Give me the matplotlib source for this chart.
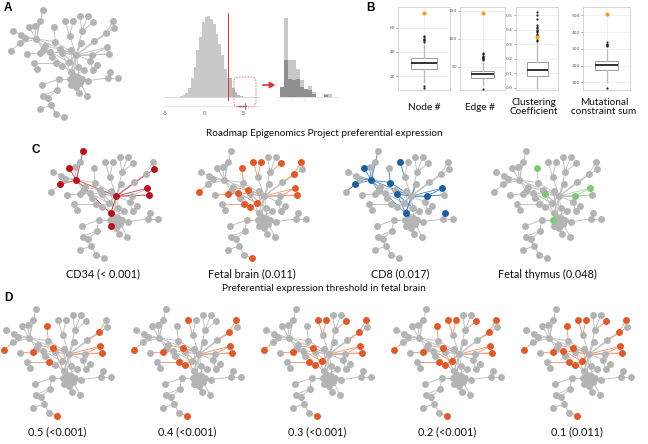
import numpy as np
import matplotlib
matplotlib.use("Agg")
import matplotlib.pyplot as plt
from matplotlib.collections import LineCollection
from matplotlib.patches import FancyBboxPatch, FancyArrowPatch

W, H = 648, 444

# ---------------- network layout (shared by all network panels) ----------------
node_x = [128, 118, 85, 103, 38, 62, 75, 108, 60, 32, 160, 195, 218, 238, 262, 278, 208, 245,
          338, 340, 316, 280, 242, 165, 135, 128, 80, 118, 150, 155, 180, 185, 212, 228, 275,
          320, 326, 268, 100, 110, 168, 186, 205, 290, 278, 252, 232, 211, 330, 323, 353, 220,
          232, 245, 208, 225, 240, 212, 262, 175, 126, 170, 228, 237, 260, 127, 143, 152, 119,
          168, 192]
node_y = [33, 65, 83, 82, 95, 107, 118, 120, 133, 155, 83, 67, 67, 52, 52, 70, 112, 97,
          67, 88, 103, 127, 132, 128, 142, 152, 165, 162, 158, 175, 150, 162, 152, 168, 168,
          145, 165, 185, 192, 210, 192, 202, 190, 198, 213, 213, 203, 220, 220, 237, 237, 230,
          235, 240, 240, 248, 252, 258, 245, 240, 258, 272, 265, 283, 290, 290, 298, 318, 330,
          345, 355]
edges = [(0, 7), (1, 7), (3, 7), (2, 7), (4, 5), (5, 6), (6, 7), (5, 7), (8, 7), (9, 8), (8, 6),
         (11, 16), (12, 16), (16, 33), (10, 23), (23, 7), (23, 33), (13, 17), (14, 17), (15, 17),
         (17, 33), (18, 20), (20, 21), (21, 33), (19, 33), (22, 33), (24, 25), (25, 7), (24, 30),
         (26, 27), (27, 28), (28, 33), (29, 28), (30, 33), (31, 33), (32, 33), (34, 33), (35, 34),
         (36, 34), (35, 33), (36, 33), (37, 33), (38, 40), (39, 38), (40, 41), (41, 33), (42, 33),
         (43, 44), (44, 37), (45, 51), (46, 33), (47, 33), (47, 57), (48, 49), (50, 49), (49, 58),
         (51, 52), (52, 53), (53, 58), (54, 51), (55, 52), (56, 55), (57, 54), (51, 33), (52, 46),
         (59, 54), (60, 59), (61, 59), (62, 55), (63, 62), (64, 56), (65, 61), (66, 61), (67, 66),
         (68, 67), (69, 67), (70, 69), (7, 33), (7, 47), (1, 3), (30, 47), (31, 46), (28, 42),
         (22, 47), (32, 51)]

# highlighted node sets
cd34 = [0, 2, 7, 8, 19, 33, 35, 36, 47, 57]
fetal_brain = [9, 10, 11, 12, 15, 18, 20, 27, 28, 30, 35, 36, 40, 41, 42, 70]
cd8 = [2, 7, 8, 11, 23, 31, 34, 35, 47, 48]
fetal_thymus = [10, 31, 34, 35, 54]
thr_05 = [9, 10, 20, 27, 30, 35, 36, 40, 70]
thr_04 = [9, 11, 18, 20, 27, 30, 35, 36, 40, 41, 70]
thr_03 = [9, 11, 12, 15, 18, 20, 27, 30, 35, 36, 40, 41, 42, 70]
thr_02 = [9, 10, 11, 12, 15, 18, 20, 27, 30, 35, 36, 40, 41, 42, 70]
thr_01 = fetal_brain

c_labels = ["CD34 (< 0.001)", "Fetal brain (0.011)", "CD8 (0.017)", "Fetal thymus (0.048)"]
d_labels = ["0.5 (<0.001)", "0.4 (<0.001)", "0.3 (<0.001)", "0.2 (<0.001)", "0.1 (0.011)"]

# ---------------- histogram (panel A) ----------------
hist_centers = [-2.9, -2.55, -2.2, -1.85, -1.5, -1.15, -0.8, -0.45, -0.1, 0.25, 0.6, 0.95,
                1.3, 1.65, 2.0, 2.35, 2.7, 3.05, 3.4, 3.75, 4.1, 4.45, 4.8]
hist_counts = [3, 6, 12, 28, 58, 90, 140, 180, 225, 240, 242, 233, 218, 190, 160, 125, 85,
               58, 57, 28, 15, 7, 3]
threshold = 3.06
inset_bins = [0, 1, 2, 3, 4, 5, 6, 7, 8, 9, 10, 11, 12]
inset_light = [30, 238, 110, 110, 85, 50, 20, 32, 15, 0, 0, 10, 10]
inset_dark = [30, 110, 55, 50, 55, 30, 25, 20, 10, 0, 0, 5, 0]

# ---------------- boxplots (panel B) ----------------
box_names = ["Node #", "Edge #", "Clustering\nCoefficient", "Mutational\nconstraint sum"]
box_med = [30.5, 37, 0.123, 202]
box_q1 = [26, 29.2, 0.081, 174]
box_q3 = [34.5, 42.9, 0.175, 227]
box_lo = [15, 17.3, 0.0, 100]
box_hi = [46, 56, 0.31, 295]
box_fliers = [[48, 49.5, 50, 51, 52, 53, 11.8, 9.9],
              [62, 64, 65, 66, 67, 68, 70, 72, 74, 9.6],
              [0.32, 0.33, 0.34, 0.35, 0.36, 0.37, 0.38, 0.39, 0.40, 0.41, 0.42, 0.43, 0.47, 0.50, 0.52],
              [315, 320, 325, 330, 338, 65]]
box_observed = [72, 146, 0.348, 510]
box_ticks = [[20, 40, 60], [50, 100, 150], [0.0, 0.1, 0.2, 0.3, 0.4, 0.5], [100, 200, 300, 400, 500]]
box_ylim = [(8.5, 77), (8.3, 157), (-0.015, 0.555), (55, 549)]

GRAY_NODE = "#b4b4b4"
GRAY_EDGE = "#bfbfbf"
NODE_S = 25

fig = plt.figure(figsize=(W / 100, H / 100), dpi=100)


def px_axes(x0, y0, w, h):
    ax = fig.add_axes([x0 / W, 1 - (y0 + h) / H, w / W, h / H])
    return ax


def draw_net(x0, y0, hl, ncol, ecol, rule):
    m = 6
    size = 107.0
    ax = px_axes(x0 - m, y0 - m, size + 2 * m, size + 2 * m)
    ax.set_xlim(32 - 3 * m, 32 + 3 * size + 3 * m)
    ax.set_ylim(33 + 3 * size + 3 * m, 33 - 3 * m)
    ax.axis("off")
    hs = set(hl)
    g_seg, c_seg = [], []
    for a, b in edges:
        seg = [(node_x[a], node_y[a]), (node_x[b], node_y[b])]
        if rule == "both":
            on = a in hs and b in hs
        else:
            on = a in hs or b in hs
        (c_seg if on else g_seg).append(seg)
    ax.add_collection(LineCollection(g_seg, colors=GRAY_EDGE, linewidths=0.65, zorder=1))
    if c_seg:
        ax.add_collection(LineCollection(c_seg, colors=ecol, linewidths=0.65, zorder=2))
    gx = [node_x[i] for i in range(len(node_x)) if i not in hs]
    gy = [node_y[i] for i in range(len(node_y)) if i not in hs]
    ax.scatter(gx, gy, s=NODE_S, color=GRAY_NODE, linewidths=0, zorder=3)
    if hl:
        ax.scatter([node_x[i] for i in hl], [node_y[i] for i in hl], s=NODE_S, color=ncol,
                   linewidths=0, zorder=4)
    return ax


# Panel A network
draw_net(11, 10, [], GRAY_NODE, GRAY_EDGE, "both")

# Panel C networks
c_sets = [cd34, fetal_brain, cd8, fetal_thymus]
c_ncol = ["#b5121b", "#df5a2a", "#1f5e9c", "#82c47a"]
c_ecol = ["#cf4a55", "#f09a78", "#4d8cc6", "#a9d8a2"]
c_rule = ["both", "either", "either", "either"]
c_left = [51, 199, 346, 494]
for i in range(4):
    draw_net(c_left[i], 151, c_sets[i], c_ncol[i], c_ecol[i], c_rule[i])

# Panel D networks
d_sets = [thr_05, thr_04, thr_03, thr_02, thr_01]
d_center = [57, 187, 317, 447, 577]
for i in range(5):
    draw_net(d_center[i] - 53, 309, d_sets[i], "#df5a2a", "#f09a78", "either")

# ---------------- main histogram ----------------
hx0, hx1 = 160, 275
hy0, hy1 = 5, 122
axh = px_axes(hx0, hy0, hx1 - hx0, hy1 - hy0)
axh.set_xlim((hx0 - 204) / 7.83, (hx1 - 204) / 7.83)
axh.set_ylim(-(hy1 - 97) * 3, (97 - hy0) * 3)
axh.axis("off")
cols = ["#c9c9c9" if c < threshold else "#b9b9b9" for c in hist_centers]
axh.bar(hist_centers, hist_counts, width=0.35, color=cols, linewidth=0, zorder=2)
axh.plot([-5.2, 7.2], [0, 0], color="#d6d6d6", lw=0.6, zorder=1)
axh.plot([-5.2, 7.0], [-27, -27], color="#e2e2e2", lw=0.6, zorder=1)
axh.plot([4.3, 5.4], [-27, -27], color="#777777", lw=1.0, zorder=2)
axh.plot([5.19, 5.19], [-36, -18], color="#d23c3c", lw=0.6, zorder=3)
axh.plot([threshold, threshold], [-9, 252], color="#d9363e", lw=0.7, zorder=3)
for t in [-5, 0, 5]:
    axh.text(t, -48, str(t), fontsize=3.5, color="#555555", ha="center", va="center")

# ---------------- inset histogram ----------------
axi = px_axes(277, 5, 64, 105)
axi.set_xlim(-1.3, 14.7)
axi.set_ylim(-(110 - 97) * 3, (97 - 5) * 3)
axi.axis("off")
axi.bar(inset_bins, inset_light, width=1.0, color="#c9c9c9", linewidth=0, zorder=1)
axi.bar(inset_bins, inset_dark, width=1.0, color="#8f8f8f", linewidth=0, zorder=2)
axi.plot([-1.0, 14.0], [0, 0], color="#d6d6d6", lw=0.5, zorder=0)
for k, t in enumerate([-0.98, 2.4, 5.7, 9.0, 12.4]):
    axi.text(t, -10, "-", fontsize=3, color="#777777", ha="center", va="center")

# ---------------- boxplots ----------------
box_frames = [(398, 450), (460, 505), (516, 558), (583, 630)]
for i in range(4):
    x0, x1 = box_frames[i]
    axb = px_axes(x0, 7, x1 - x0, 83)
    stats = [dict(med=box_med[i], q1=box_q1[i], q3=box_q3[i], whislo=box_lo[i],
                  whishi=box_hi[i], fliers=box_fliers[i], label="")]
    axb.bxp(stats, positions=[1], widths=0.5, patch_artist=True, showcaps=False,
            boxprops=dict(facecolor="white", edgecolor="#8a8a8a", linewidth=0.6),
            medianprops=dict(color="#222222", linewidth=1.3),
            whiskerprops=dict(color="#bdbdbd", linewidth=1.0),
            flierprops=dict(marker="o", markersize=1.6, markerfacecolor="#222222",
                            markeredgewidth=0, linestyle="none"),
            zorder=3)
    axb.scatter([1], [box_observed[i]], s=9, color="#f5a021", linewidths=0, zorder=5)
    axb.set_xlim(0.5, 1.5)
    axb.set_ylim(*box_ylim[i])
    axb.set_yticks(box_ticks[i])
    if i == 2:
        axb.set_yticklabels(["%.1f" % v for v in box_ticks[i]])
    axb.set_xticks([])
    axb.tick_params(axis="y", labelsize=3.2, length=1.2, width=0.4, pad=1,
                    colors="#555555")
    axb.grid(axis="y", color="#ececec", lw=0.5)
    axb.axvline(1, color="#ececec", lw=0.5, zorder=0)
    axb.set_axisbelow(True)
    for s in axb.spines.values():
        s.set_color("#cfcfcf")
        s.set_linewidth(0.6)

# ---------------- overlay texts and annotations ----------------
ov = fig.add_axes([0, 0, 1, 1], zorder=10)
ov.set_xlim(0, W)
ov.set_ylim(H, 0)
ov.axis("off")
ov.patch.set_visible(False)

LBL = dict(fontfamily="Liberation Sans", fontweight="bold", fontsize=8.5, ha="left", va="center")
ov.text(4, 8, "A", **LBL)
ov.text(366, 8, "B", **LBL)
ov.text(31, 150, "C", **LBL)
ov.text(4, 298, "D", **LBL)

TXT = dict(fontfamily="Lato", color="#111111", ha="center", va="center")
ov.text(324, 133, "Roadmap Epigenomics Project preferential expression", fontsize=7.2, **TXT)
ov.text(324, 288, "Preferential expression threshold in fetal brain", fontsize=7.2, **TXT)
c_lab_x = [103, 252, 400, 547]
for i in range(4):
    ov.text(c_lab_x[i], 274, c_labels[i], fontsize=7.8, **TXT)
for i in range(5):
    ov.text(d_center[i], 432, d_labels[i], fontsize=7.8, **TXT)
box_lab_x = [424, 480, 534, 604]
for i in range(4):
    ov.text(box_lab_x[i], 107, box_names[i], fontsize=7.2, linespacing=1.0, **TXT)

rect = FancyBboxPatch((234, 77), 22, 30, boxstyle="round,pad=0,rounding_size=5",
                      fill=False, edgecolor="#e06a6a", linestyle=(0, (2, 1.5)), linewidth=0.6)
ov.add_patch(rect)
arr = FancyArrowPatch((260, 85), (278, 85), arrowstyle="-|>,head_length=3,head_width=1.8",
                      color="#d9363e", linewidth=1.2, mutation_scale=1)
ov.add_patch(arr)

fig.savefig("out.png", dpi=100)
